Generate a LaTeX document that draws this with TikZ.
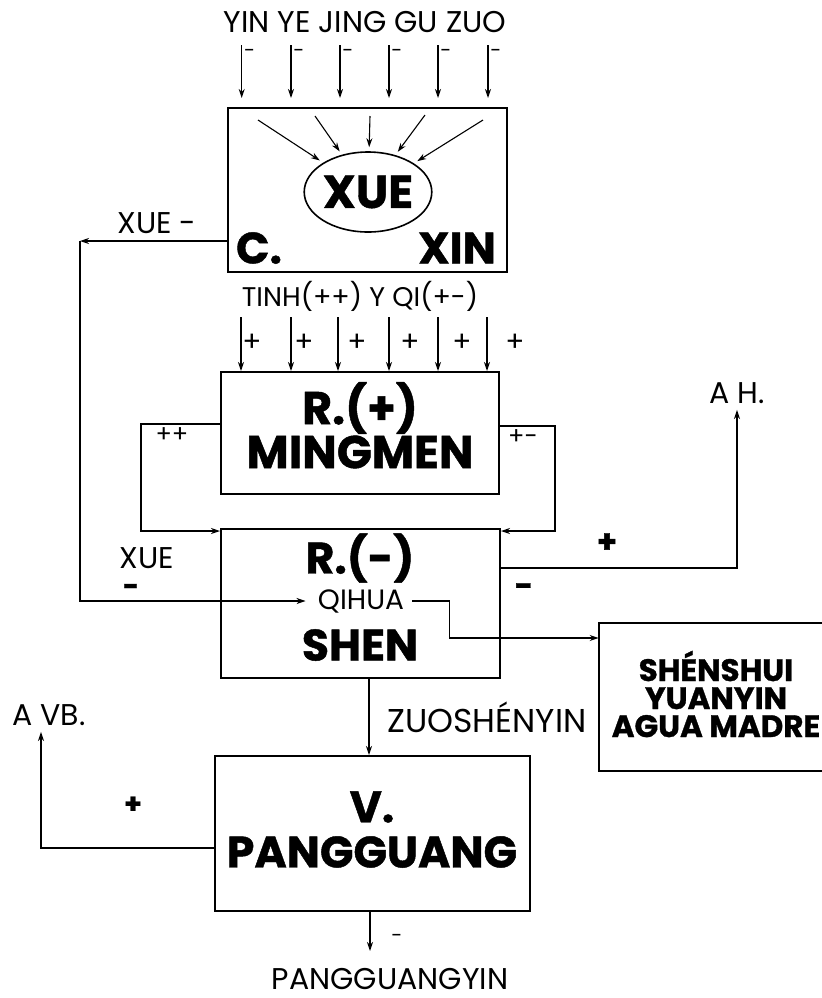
\documentclass[tikz,border=0pt]{standalone}
\usepackage{fontspec}
\setmainfont{Poppins}[BoldFeatures={FakeBold=1}]
\usetikzlibrary{shapes.geometric,arrows.meta}
\begin{document}
\begin{tikzpicture}[x=0.5pt,y=-0.5pt,
  box/.style={draw, rectangle, line width=1pt, inner sep=0pt},
  arr/.style={-{Stealth[length=4.5pt,width=3pt]}, line width=0.65pt},
  lbl/.style={inner sep=0pt, font=\fontsize{15}{18}\selectfont},
  sml/.style={inner sep=0pt, font=\fontsize{10}{12}\selectfont},
  plus/.style={inner sep=0pt, font=\fontsize{14}{16}\selectfont\bfseries},
  big/.style={inner sep=0pt, font=\fontsize{22}{24}\selectfont\bfseries}]
\useasboundingbox (0,0) rectangle (822,998);

% boxes
\node[box, minimum width=139.5pt, minimum height=82pt] (cxin) at (367.5,190) {};
\node[box, minimum width=139pt, minimum height=61pt] (ming) at (360,433) {};
\node[box, minimum width=139.5pt, minimum height=74.5pt] (shen) at (360.5,603.5) {};
\node[inner sep=0pt, minimum width=112pt, minimum height=74pt] (agua) at (711,697) {};
\draw[line width=1pt] (agua.north east) -- (agua.north west) -- (agua.south west) -- (agua.south east);
\node[box, minimum width=157.5pt, minimum height=77.5pt] (pang) at (372.5,833.5) {};

% top inputs
\node[lbl] (topt) at (365,22) {YIN YE JING GU ZUO};
\foreach \i/\xx in {1/241.7,2/291,3/340,4/389,5/438,6/488}{
  \coordinate (t\i) at (\xx,45);
  \draw[arr, shorten >=4.5pt] (t\i) -- (t\i |- cxin.north);
  \node[sml] (tm\i) at (\xx+8,53) {-};
}

% ellipse and inner arrows
\node[draw, ellipse, line width=0.8pt, minimum width=63pt, minimum height=40pt, inner sep=0pt,
      font=\fontsize{23}{24}\selectfont\bfseries] (xue) at (368,192) {XUE};
\coordinate (s1) at (258,120);
\coordinate (s2) at (315,116);
\coordinate (s3) at (370,116);
\coordinate (s4) at (425,115);
\coordinate (s5) at (483,120);
\foreach \i in {1,...,5}{\draw[arr, line width=0.55pt, shorten >=2pt] (s\i) -- (xue);}
\node[big, font=\fontsize{22}{24}\selectfont\bfseries] (cc) at (259,248) {C.};
\node[big, font=\fontsize{22}{24}\selectfont\bfseries] (xin) at (457,248) {XIN};

% XUE - loop
\node[lbl] (xuem) at (157,223) {XUE -};
\coordinate (cornerL) at (80,241);
\draw[arr] (cxin.west |- cornerL) -- (cornerL);

% TINH inputs
\node[lbl, font=\fontsize{13.5}{16}\selectfont] (tinh) at (360,296) {TINH(++) Y QI(+-)};
\foreach \i/\xx/\px in {1/241/252,2/291/304,3/338/357,4/389/410,5/438/462,6/487/515}{
  \coordinate (p\i) at (\xx,317);
  \draw[arr] (p\i) -- (p\i |- ming.north);
  \node[plus, font=\fontsize{14}{16}\selectfont] (pp\i) at (\px,343) {+};
}

% MINGMEN
\node[big, font=\fontsize{23}{24}\selectfont\bfseries] (rplus) at (360,408) {R.(+)};
\node[big, font=\fontsize{23}{24}\selectfont\bfseries] (mingt) at (360,452) {MINGMEN};
\draw[arr] ([yshift=4.5pt]ming.west) -- ++(-79,0) |- ([yshift=-1.5pt]shen.north west);
\draw[arr] ([yshift=3.5pt]ming.east) -- ++(55,0) |- ([yshift=-1.5pt]shen.north east);
\node[sml, font=\fontsize{12}{14}\selectfont] (pp) at (172,435) {++};
\node[sml, font=\fontsize{12}{14}\selectfont] (pm) at (523,437) {+-};

% SHEN
\node[big] (rminus) at (360,558) {R.(-)};
\node[lbl, font=\fontsize{14}{16}\selectfont] (qihua) at (361,601) {QIHUA};
\node[big] (shent) at (360,645) {SHEN};
\draw[arr, shorten >=6pt] (cornerL) |- (qihua.west);
\node[lbl] (xuel) at (147,558) {XUE};
\node[plus] (xuelm) at (131,590) {-};
\node[plus, font=\fontsize{16}{18}\selectfont\bfseries] (ahp) at (607,543) {+};
\node[plus, font=\fontsize{16}{18}\selectfont\bfseries] (ahm) at (524,590) {-};

% A H.
\node[lbl] (ah) at (737,393) {A H.};
\draw[arr, shorten >=3pt] ([yshift=17.75pt]shen.east) -| (ah.south);

% to Shenshui
\draw[arr] ([xshift=4pt]qihua.east) -- ++(37,0) |- ([yshift=29.5pt]agua.west);
\node[inner sep=0pt, align=center, font=\fontsize{15.5}{14}\selectfont\bfseries] (aguat) at (716,694) {SHÉNSHUI\\YUANYIN\\AGUA MADRE};

% ZUOSHENYIN
\draw[arr] ([xshift=4.25pt]shen.south) -- ([xshift=4.25pt]shen.south |- pang.north);
\node[lbl, font=\fontsize{16.5}{18}\selectfont] (zuo) at (487,717) {ZUOSHÉNYIN};

% PANGGUANG
\node[big] (vv) at (372,807) {V.};
\node[big] (pangt) at (372,852) {PANGGUANG};
\node[lbl] (avb) at (49,715) {A VB.};
\draw[arr, shorten >=3pt] ([yshift=-7.25pt]pang.west) -| ([xshift=-4pt]avb.south);
\node[plus] (avbp) at (133,805) {+};
\coordinate (pend) at (370,951);
\draw[arr] (pang.south -| pend) -- (pend);
\node[sml] (pm2) at (397,938) {-};
\node[lbl] (pgy) at (390,979) {PANGGUANGYIN};
\end{tikzpicture}
\end{document}
